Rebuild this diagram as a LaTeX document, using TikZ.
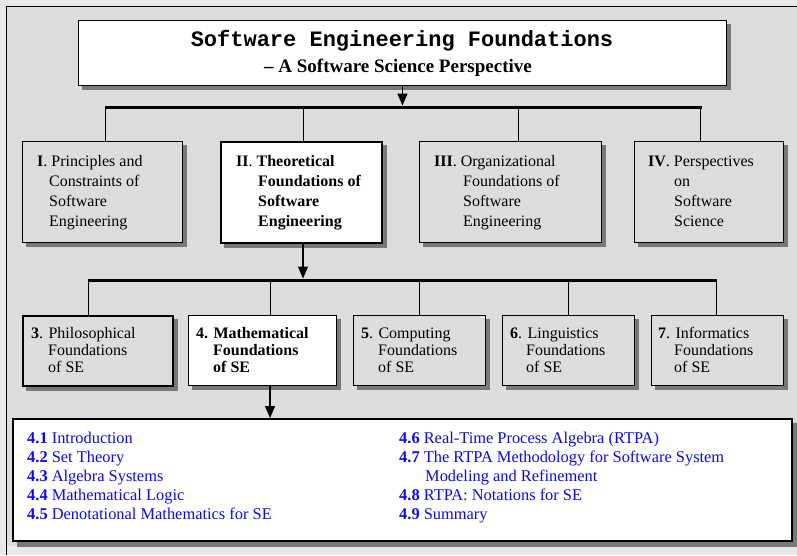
\documentclass[tikz,border=0pt]{standalone}
\usepackage{fontspec}
\setmainfont{Liberation Serif}
\setmonofont{Liberation Mono}
\usetikzlibrary{arrows.meta,backgrounds}
\definecolor{pagebg}{RGB}{232,232,232}
\definecolor{panel}{RGB}{220,220,220}
\definecolor{dropgrey}{RGB}{120,120,120}
\definecolor{toc}{RGB}{10,10,250}

\tikzset{
  box/.style={draw, line width=0.9pt, fill=panel, inner sep=0pt, anchor=north west},
  heavy/.style={line width=2.4pt},
  lbl/.style={inner sep=0pt, anchor=base west, align=left},
  rowone/.style={lbl, font=\fontsize{16}{19.7}\selectfont},
  rowtwo/.style={lbl, font=\fontsize{16}{17}\selectfont},
  toclist/.style={lbl, text=toc, font=\fontsize{16.4}{19}\selectfont},
  bar/.style={line width=3pt},
  drop/.style={line width=0.9pt},
  arr/.style={line width=1.3pt, -{Triangle[length=12pt,width=10pt]}},
  boxshadow/.style={fill=dropgrey, draw=none}
}

\begin{document}
\begin{tikzpicture}[x=1pt,y=-1pt]
  \useasboundingbox (0,0) rectangle (797,555);
  \draw[line width=0.8pt] (6,555) -- (6,6) -- (797,6);

  % title
  \node[box, fill=white, minimum width=648pt, minimum height=65pt] (title) at (78,20) {};
  \node[inner sep=0pt, anchor=base, font=\ttfamily\bfseries\fontsize{22}{26}\selectfont] (ttl) at (402,46) {Software Engineering Foundations};
  \node[inner sep=0pt, anchor=base, font=\bfseries\fontsize{19}{23}\selectfont] (sub) at (398,72) {-- A Software Science Perspective};

  % parts (text nodes are anchored at the baseline of their last line)
  \node[box, minimum width=160pt, minimum height=101pt] (p1) at (22,141) {};
  \node[box, heavy, fill=white, minimum width=161pt, minimum height=101pt] (p2) at (220,141) {};
  \node[box, minimum width=182pt, minimum height=101pt] (p3) at (419,141) {};
  \node[box, minimum width=149pt, minimum height=101pt] (p4) at (634,141) {};

  \node[rowone] (p1t) at (37,226) {\textbf{I}. Principles and\\\hspace*{12pt}Constraints of\\\hspace*{12pt}Software\\\hspace*{12pt}Engineering};
  \node[rowone] (p2t) at (236,226) {\textbf{II}. \textbf{Theoretical}\\\hspace*{22pt}\textbf{Foundations of}\\\hspace*{22pt}\textbf{Software}\\\hspace*{22pt}\textbf{Engineering}};
  \node[rowone] (p3t) at (434,226) {\textbf{III}. Organizational\\\hspace*{29pt}Foundations of\\\hspace*{29pt}Software\\\hspace*{29pt}Engineering};
  \node[rowone] (p4t) at (648,226) {\textbf{IV}. Perspectives\\\hspace*{26pt}on\\\hspace*{26pt}Software\\\hspace*{26pt}Science};

  % chapters
  \node[box, heavy, minimum width=150pt, minimum height=70pt] (c3) at (22,315) {};
  \node[box, fill=white, minimum width=148pt, minimum height=70pt] (c4) at (188,315) {};
  \node[box, minimum width=132pt, minimum height=70pt] (c5) at (353,315) {};
  \node[box, minimum width=132pt, minimum height=70pt] (c6) at (502,315) {};
  \node[box, minimum width=132pt, minimum height=70pt] (c7) at (651,315) {};

  \node[rowtwo] (c3t) at (31,372) {\textbf{3}. Philosophical\\\hspace*{17pt}Foundations\\\hspace*{17pt}of SE};
  \node[rowtwo] (c4t) at (196,372) {\textbf{4. Mathematical}\\\hspace*{17pt}\textbf{Foundations}\\\hspace*{17pt}\textbf{of SE}};
  \node[rowtwo] (c5t) at (361,372) {\textbf{5}. Computing\\\hspace*{17pt}Foundations\\\hspace*{17pt}of SE};
  \node[rowtwo] (c6t) at (510,372) {\textbf{6}. Linguistics\\\hspace*{16pt}Foundations\\\hspace*{16pt}of SE};
  \node[rowtwo] (c7t) at (658,372) {\textbf{7}. Informatics\\\hspace*{16pt}Foundations\\\hspace*{16pt}of SE};

  % sections
  \node[box, heavy, fill=white, minimum width=779pt, minimum height=122pt] (sec) at (12,418) {};
  \node[toclist] (secl) at (27,519) {\textbf{4.1} Introduction\\\textbf{4.2} Set Theory\\\textbf{4.3} Algebra Systems\\\textbf{4.4} Mathematical Logic\\\textbf{4.5} Denotational Mathematics for SE};
  \node[toclist] (secr) at (399,519) {\textbf{4.6} Real-Time Process Algebra (RTPA)\\\textbf{4.7} The RTPA Methodology for Software System\\\hspace*{26pt}Modeling and Refinement\\\textbf{4.8} RTPA: Notations for SE\\\textbf{4.9} Summary};

  % first level bus
  \coordinate (a1) at (105,107);
  \coordinate (a2) at (303,107);
  \coordinate (a3) at (518,107);
  \coordinate (a4) at (702,107);
  \draw[bar] (a1) -- (a4);
  \draw[arr] (title.south) -- ([yshift=1.5pt]title.south |- a1);
  \draw[drop] (a1) -- (a1 |- p1.north);
  \draw[drop] (a2) -- (a2 |- p2.north);
  \draw[drop] (a3) -- (a3 |- p3.north);
  \draw[drop] (700,107) -- (700,141);

  % second level bus
  \coordinate (b1) at (88,280);
  \coordinate (b2) at (270,280);
  \coordinate (b3) at (419,280);
  \coordinate (b4) at (568,280);
  \coordinate (b5) at (717,280);
  \draw[bar] (b1) -- (b5);
  \draw[arr] (a2 |- p2.south) -- ([yshift=1.5pt]a2 |- b1);
  \draw[drop] (b1) -- (b1 |- c3.north);
  \draw[drop] (b2) -- (b2 |- c4.north);
  \draw[drop] (b3) -- (b3 |- c5.north);
  \draw[drop] (b4) -- (b4 |- c6.north);
  \draw[drop] (716,280) -- (716,315);

  % into the section list
  \draw[arr] (b2 |- c4.south) -- (b2 |- sec.north);

  % page, panel and drop shadows behind everything
  \begin{scope}[on background layer]
    \fill[pagebg] (0,0) rectangle (797,555);
    \fill[panel] (6,6) rectangle (797,546);
    \foreach \b in {title,p1,p2,p3,p4,c3,c4,c5,c6,c7}
      \fill[boxshadow] ([shift={(4,4)}]\b.north west) rectangle ([shift={(4,4)}]\b.south east);
    \fill[boxshadow] ([shift={(5,5)}]sec.north west) rectangle ([shift={(5,5)}]sec.south east);
  \end{scope}
\end{tikzpicture}
\end{document}
